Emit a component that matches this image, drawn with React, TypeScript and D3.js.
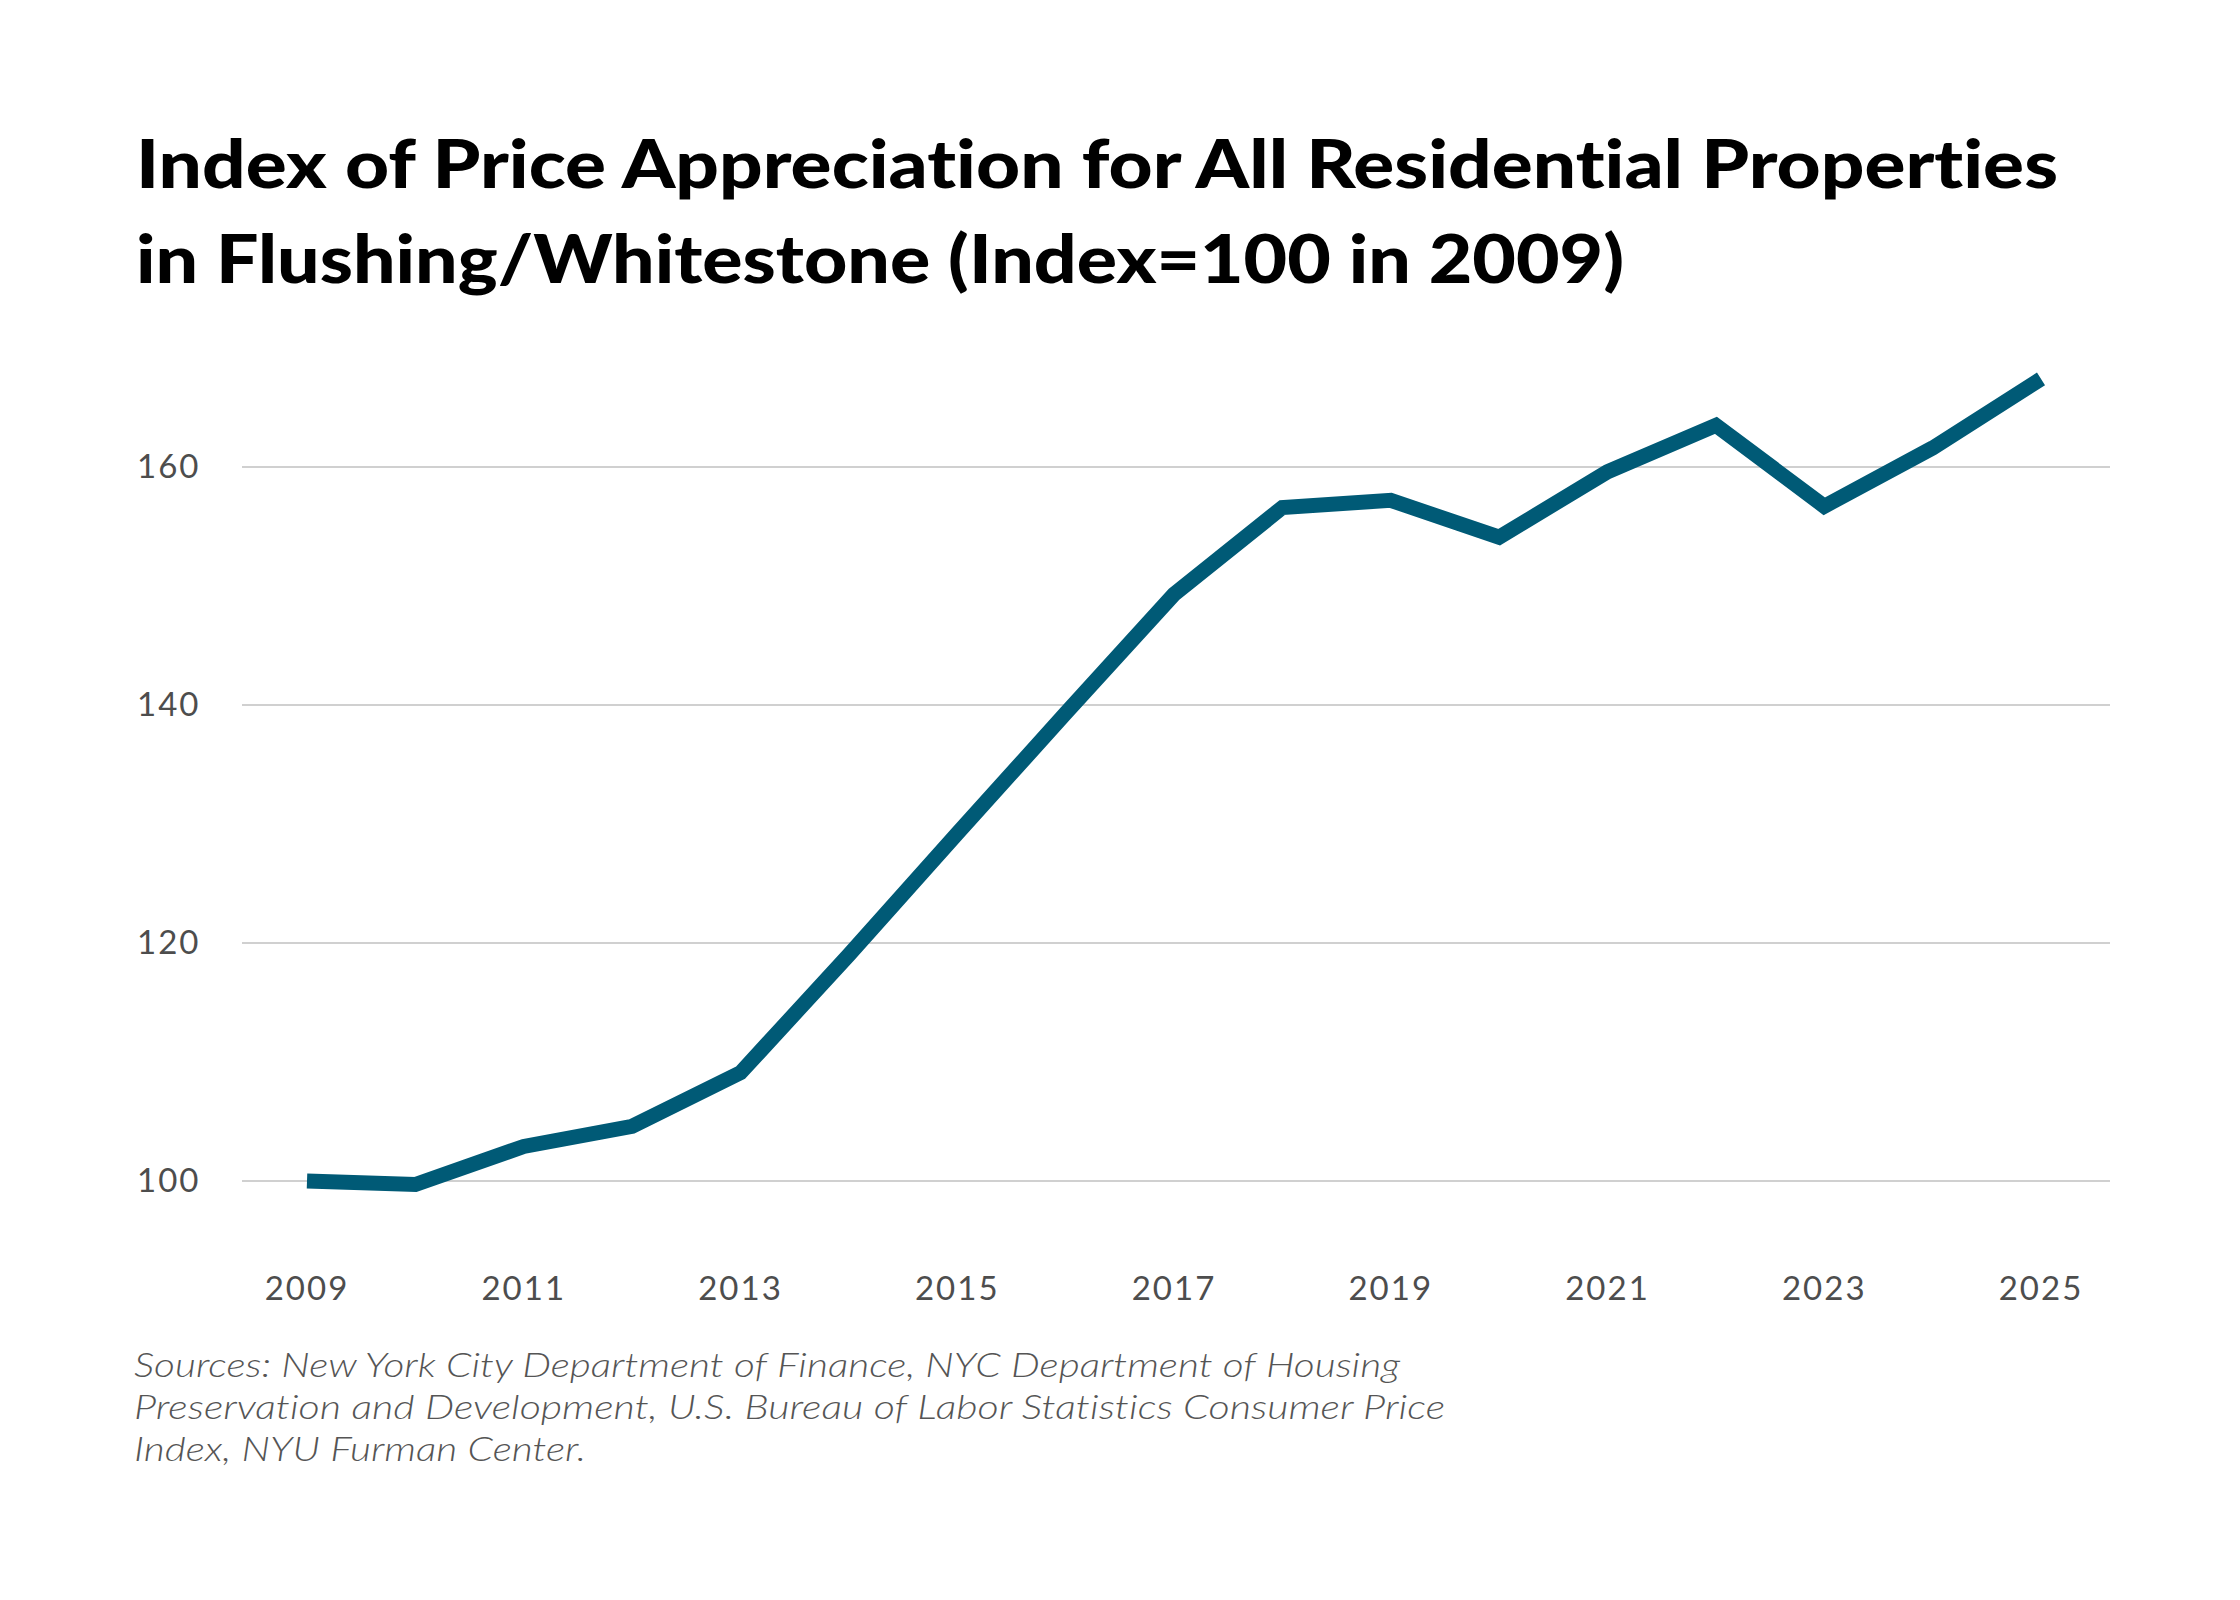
import { useRef, useEffect } from "react";
import * as d3 from "d3";

const years = [2009, 2010, 2011, 2012, 2013, 2014, 2015, 2016, 2017, 2018, 2019, 2020, 2021, 2022, 2023, 2024, 2025];
const indexValues = [100, 99.7, 102.9, 104.6, 109.1, 119.0, 129.2, 139.3, 149.3, 156.6, 157.2, 154.1, 159.6, 163.5, 156.7, 161.6, 167.4];
const yTicks = [100, 120, 140, 160];
const xTicks = [2009, 2011, 2013, 2015, 2017, 2019, 2021, 2023, 2025];
const titleLines = [
  "Index of Price Appreciation for All Residential Properties",
  "in Flushing/Whitestone (Index=100 in 2009)",
];
const sourceLines = [
  "Sources: New York City Department of Finance, NYC Department of Housing",
  "Preservation and Development, U.S. Bureau of Labor Statistics Consumer Price",
  "Index, NYU Furman Center.",
];

export default function App() {
  const ref = useRef<SVGSVGElement | null>(null);

  useEffect(() => {
    if (!ref.current) return;
    const svg = d3.select(ref.current);
    svg.selectAll("*").remove();

    const W = 2240, H = 1600;
    svg.append("rect").attr("width", W).attr("height", H).attr("fill", "#fff");

    const x = d3.scaleLinear().domain([2009, 2025]).range([307, 2041]);
    const y = d3.scaleLinear().domain([100, 160]).range([1181, 467]);

    // title
    const titleW = [1922, 1488];
    titleLines.forEach((t, i) => {
      svg.append("text")
        .attr("x", 136).attr("y", 188 + i * 95)
        .attr("font-family", "Lato, 'Noto Sans', sans-serif")
        .attr("font-weight", 900)
        .attr("font-size", 67)
        .attr("fill", "#000")
        .attr("textLength", titleW[i])
        .attr("lengthAdjust", "spacingAndGlyphs")
        .style("font-variant-ligatures", "none")
        .text(t);
    });

    // grid + y labels
    const g = svg.append("g");
    yTicks.forEach(v => {
      g.append("line")
        .attr("x1", 242).attr("x2", 2110)
        .attr("y1", y(v)).attr("y2", y(v))
        .attr("stroke", "#d0d0d0").attr("stroke-width", 2);
      g.append("text")
        .attr("x", 137).attr("y", y(v) + 11)
        .attr("font-family", "Lato, 'Noto Sans', sans-serif")
        .attr("font-size", 33)
        .attr("letter-spacing", 2)
        .attr("fill", "#4d4d4d")
        .text(v);
    });

    // x labels
    xTicks.forEach(yr => {
      svg.append("text")
        .attr("x", x(yr)).attr("y", 1300)
        .attr("text-anchor", "middle")
        .attr("font-family", "Lato, 'Noto Sans', sans-serif")
        .attr("font-size", 33)
        .attr("letter-spacing", 2)
        .attr("fill", "#4d4d4d")
        .text(yr);
    });

    // line
    const pts = years.map((yr, i) => [yr, indexValues[i]] as [number, number]);
    const line = d3.line<[number, number]>().x(d => x(d[0])).y(d => y(d[1]));
    svg.append("path")
      .datum(pts)
      .attr("fill", "none")
      .attr("stroke", "#005a76")
      .attr("stroke-width", 15)
      .attr("stroke-linejoin", "miter")
      .attr("d", line);

    // sources
    const srcW = [1266, 1311, 452];
    sourceLines.forEach((t, i) => {
      svg.append("text")
        .attr("x", 134).attr("y", 1377 + i * 42)
        .attr("font-family", "Lato, 'Noto Sans', sans-serif")
        .attr("font-style", "italic")
        .attr("font-weight", 300)
        .attr("font-size", 33)
        .attr("fill", "#555")
        .attr("textLength", srcW[i])
        .attr("lengthAdjust", "spacingAndGlyphs")
        .style("font-variant-ligatures", "none")
        .text(t);
    });
  }, []);

  return (
    <div style={{ position: "absolute", left: 0, top: 0 }}>
      <svg ref={ref} width={2240} height={1600} style={{ display: "block" }} />
    </div>
  );
}
